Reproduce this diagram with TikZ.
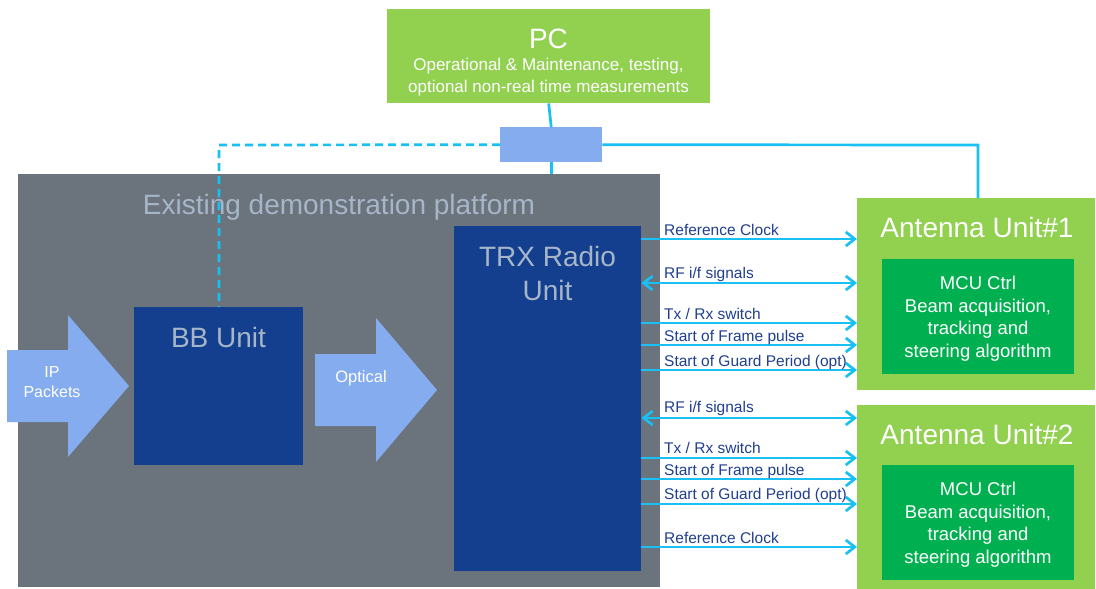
\documentclass[tikz,border=0pt]{standalone}
\usepackage{fontspec}
\setmainfont{Liberation Sans}
\usetikzlibrary{arrows.meta}
\definecolor{lightgreen}{HTML}{92D050}
\definecolor{darkgreen}{HTML}{00B050}
\definecolor{platgray}{HTML}{6B737D}
\definecolor{unitblue}{HTML}{133F8E}
\definecolor{paleblue}{HTML}{84ACEE}
\definecolor{linkcyan}{HTML}{18C0F4}
\definecolor{sigtext}{HTML}{203F8F}
\definecolor{headgray}{HTML}{A6B6C8}
\tikzset{
  block/.style={draw=none, inner sep=0pt, anchor=north west},
  bigtxt/.style={font=\fontsize{28}{30}\selectfont, inner sep=0pt, anchor=base},
  whitetxt/.style={text=white, inner sep=0pt, anchor=base, align=center},
  lbl/.style={font=\fontsize{15.5}{17}\selectfont, text=sigtext, inner sep=0pt, anchor=base west},
  link/.style={draw=linkcyan, line width=2.7pt},
  barb/.tip={Straight Barb[length=9pt,width=14pt,line width=2.7pt]},
  sig/.style={draw=linkcyan, line width=2.7pt, -barb},
  sigboth/.style={draw=linkcyan, line width=2.7pt, barb-barb},
}
\begin{document}
\begin{tikzpicture}[x=1pt,y=-1pt]
\fill[white] (0,0) rectangle (1096,589);
\useasboundingbox (0,0) rectangle (1096,589);

% PC and the switch below it
\node[block, fill=lightgreen, minimum width=323pt, minimum height=94pt] (pc) at (387,9) {};
\node[bigtxt, text=white] (pct) at (548.5,48) {PC};
\node[whitetxt, font=\fontsize{17}{21}\selectfont] (pcsub) at (548.5,92)
  {Operational \& Maintenance, testing,\\optional non-real time measurements};
\node[block, fill=paleblue, minimum width=102pt, minimum height=35pt] (sw) at (500,127) {};

% existing platform
\node[block, fill=platgray, minimum width=642pt, minimum height=413pt] (plat) at (18,174) {};
\node[bigtxt, text=headgray] (platt) at (339,214) {Existing demonstration platform};

% IP packets arrow
\fill[paleblue] (7,350) -- (68,350) -- (68,315) -- (129,386) -- (68,457) -- (68,422) -- (7,422) -- cycle;
\node[whitetxt, font=\fontsize{16}{20}\selectfont] (ipt) at (52,397) {IP\\Packets};

% BB unit
\node[block, fill=unitblue, minimum width=169pt, minimum height=158pt] (bb) at (134,307) {};
\node[bigtxt, text=headgray] (bbt) at (218.5,347) {BB Unit};

% optical arrow
\fill[paleblue] (315,354) -- (376,354) -- (376,318) -- (437,390) -- (376,462) -- (376,426) -- (315,426) -- cycle;
\node[whitetxt, font=\fontsize{16.5}{20}\selectfont] (optt) at (361,382) {Optical};

% TRX radio unit
\node[block, fill=unitblue, minimum width=187pt, minimum height=345pt] (trx) at (454,226) {};
\node[whitetxt, text=headgray, font=\fontsize{28}{34}\selectfont] (trxt) at (547.5,300) {TRX Radio\\Unit};

% antenna units
\node[block, fill=lightgreen, minimum width=238pt, minimum height=192pt] (au1) at (857,198) {};
\node[bigtxt, text=white] (au1t) at (977,237) {Antenna Unit\#1};
\node[block, fill=darkgreen, minimum width=192pt, minimum height=115pt] (mcu1) at (882,259) {};
\node[whitetxt, font=\fontsize{18.5}{22.4}\selectfont] (mcu1t) at (978,357)
  {MCU Ctrl\\Beam acquisition,\\tracking and\\steering algorithm};

\node[block, fill=lightgreen, minimum width=238pt, minimum height=184pt] (au2) at (857,405) {};
\node[bigtxt, text=white] (au2t) at (977,444) {Antenna Unit\#2};
\node[block, fill=darkgreen, minimum width=192pt, minimum height=115pt] (mcu2) at (882,465) {};
\node[whitetxt, font=\fontsize{18.5}{22.4}\selectfont] (mcu2t) at (978,563)
  {MCU Ctrl\\Beam acquisition,\\tracking and\\steering algorithm};

% management links
\coordinate (bend1) at (219,145);
\coordinate (bend2) at (978,145);
\draw[link] (pc.south) -- (sw.north);
\draw[link] (sw.south) -- (sw.south |- plat.north);
\draw[link, dash pattern=on 8pt off 5pt] (sw.west) -- (bend1) -- (bend1 |- bb.north);
\draw[link] (sw.east) -- (bend2) -- (bend2 |- au1.north);

% signals to antenna unit 1
\draw[sig] (trx.east |- 0,239) -- (au1.west |- 0,239);
\draw[sigboth] (trx.east |- 0,283) -- (au1.west |- 0,283);
\draw[sig] (trx.east |- 0,323) -- (au1.west |- 0,323);
\draw[sig] (trx.east |- 0,345) -- (au1.west |- 0,345);
\draw[sig] (trx.east |- 0,370) -- (au1.west |- 0,370);
\node[lbl] (s1) at (664,235) {Reference Clock};
\node[lbl] (s2) at (664,278) {RF i/f signals};
\node[lbl] (s3) at (664,319) {Tx / Rx switch};
\node[lbl] (s4) at (664,341) {Start of Frame pulse};
\node[lbl] (s5) at (664,366) {Start of Guard Period (opt)};

% signals to antenna unit 2
\draw[sigboth] (trx.east |- 0,418) -- (au2.west |- 0,418);
\draw[sig] (trx.east |- 0,458) -- (au2.west |- 0,458);
\draw[sig] (trx.east |- 0,479) -- (au2.west |- 0,479);
\draw[sig] (trx.east |- 0,504) -- (au2.west |- 0,504);
\draw[sig] (trx.east |- 0,547) -- (au2.west |- 0,547);
\node[lbl] (t1) at (664,412) {RF i/f signals};
\node[lbl] (t2) at (664,453) {Tx / Rx switch};
\node[lbl] (t3) at (664,475) {Start of Frame pulse};
\node[lbl] (t4) at (664,499) {Start of Guard Period (opt)};
\node[lbl] (t5) at (664,543) {Reference Clock};
\end{tikzpicture}
\end{document}
